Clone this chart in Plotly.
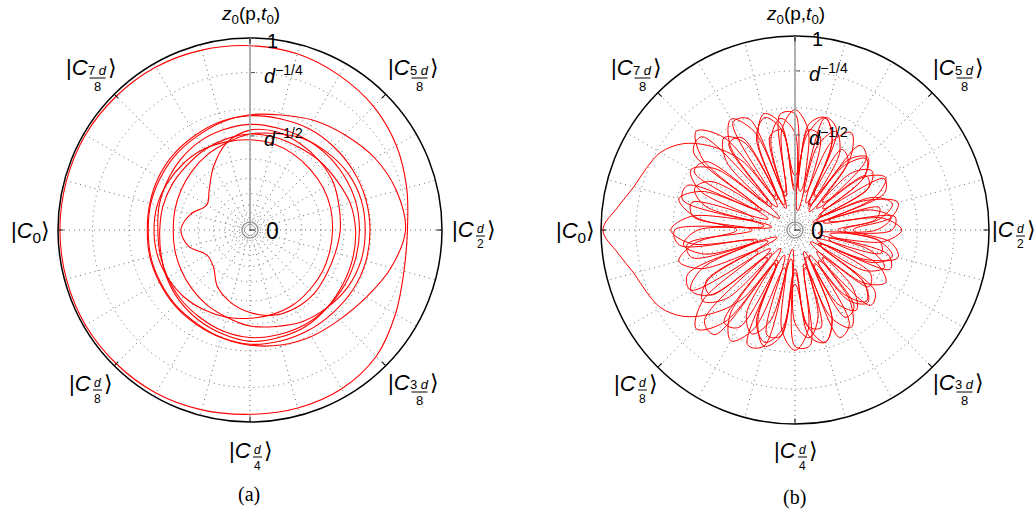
import plotly.graph_objects as go

W, H = 1036, 519
FONT = "Liberation Sans, Arial, sans-serif"
SERIF = "Liberation Serif, Times New Roman, serif"

# ---------------- data ----------------
# panel (a): radius (display scale) sampled every 15 degrees
theta_a = list(range(0, 360, 15))
a_big = [0.82, 0.845, 0.88, 0.91, 0.93, 0.95, 0.96, 0.97, 0.98, 0.985, 0.99, 0.99,
         0.99, 0.99, 0.99, 0.985, 0.98, 0.97, 0.96, 0.96, 0.955, 0.93, 0.875, 0.83]
a_c1 = [0.625, 0.624, 0.62, 0.615, 0.61, 0.6, 0.595, 0.585, 0.57, 0.56, 0.55, 0.54,
        0.535, 0.54, 0.545, 0.555, 0.565, 0.58, 0.595, 0.6, 0.605, 0.61, 0.62, 0.625]
a_c2 = [0.57, 0.57, 0.565, 0.56, 0.555, 0.55, 0.55, 0.54, 0.53, 0.515, 0.5, 0.49,
        0.48, 0.485, 0.495, 0.51, 0.525, 0.545, 0.56, 0.565, 0.57, 0.57, 0.57, 0.57]
a_c3 = [0.55, 0.54, 0.52, 0.51, 0.5, 0.5, 0.5, 0.49, 0.48, 0.47, 0.47, 0.47,
        0.47, 0.48, 0.5, 0.52, 0.54, 0.56, 0.58, 0.58, 0.58, 0.57, 0.56, 0.555]
a_c4 = [0.6, 0.6, 0.59, 0.57, 0.55, 0.52, 0.5, 0.47, 0.45, 0.43, 0.415, 0.405,
        0.4, 0.405, 0.415, 0.43, 0.45, 0.47, 0.5, 0.52, 0.55, 0.57, 0.59, 0.6]
a_c5 = [0.43, 0.435, 0.44, 0.445, 0.455, 0.465, 0.47, 0.475, 0.485, 0.49, 0.495, 0.5,
        0.5, 0.5, 0.495, 0.49, 0.48, 0.47, 0.46, 0.455, 0.45, 0.44, 0.435, 0.43]
a_c6 = [0.81, 0.79, 0.75, 0.7, 0.66, 0.62, 0.6, 0.58, 0.56, 0.55, 0.54, 0.535,
        0.53, 0.535, 0.54, 0.55, 0.56, 0.58, 0.6, 0.62, 0.64, 0.66, 0.7, 0.76]
a_wavy = [0.47, 0.48, 0.5, 0.51, 0.52, 0.53, 0.52, 0.47, 0.38, 0.3, 0.26, 0.32,
          0.36, 0.33, 0.26, 0.27, 0.34, 0.39, 0.43, 0.46, 0.47, 0.47, 0.46, 0.46]
a_curves = [a_big, a_c1, a_c2, a_c3, a_c4, a_c5, a_c6, a_wavy]

# panel (b): radius sampled every 7.5 degrees
theta_b = [i * 7.5 for i in range(48)]
b_f0 = [0.30, 0.50, 0.55, 0.40, 0.15, 0.45, 0.52, 0.42, 0.15, 0.50, 0.60, 0.55,
        0.20, 0.55, 0.62, 0.50, 0.18, 0.45, 0.61, 0.73, 0.80, 0.83, 0.86, 0.92,
        0.99, 0.92, 0.86, 0.83, 0.80, 0.73, 0.61, 0.45, 0.18, 0.50, 0.62, 0.55,
        0.20, 0.55, 0.60, 0.50, 0.15, 0.42, 0.52, 0.45, 0.15, 0.40, 0.55, 0.50]
b_f1 = [0.55, 0.46, 0.18, 0.45, 0.54, 0.45, 0.16, 0.47, 0.58, 0.49, 0.20, 0.52,
        0.62, 0.52, 0.20, 0.55, 0.66, 0.55, 0.17, 0.52, 0.62, 0.53, 0.22, 0.54,
        0.64, 0.54, 0.22, 0.52, 0.62, 0.55, 0.17, 0.55, 0.66, 0.55, 0.20, 0.52,
        0.62, 0.52, 0.20, 0.49, 0.58, 0.47, 0.16, 0.45, 0.54, 0.46, 0.18, 0.46]
b_f2 = [0.25, 0.44, 0.52, 0.44, 0.14, 0.45, 0.53, 0.46, 0.20, 0.50, 0.60, 0.50,
        0.28, 0.52, 0.60, 0.52, 0.20, 0.60, 0.72, 0.60, 0.22, 0.52, 0.62, 0.52,
        0.30, 0.52, 0.62, 0.52, 0.22, 0.60, 0.72, 0.60, 0.20, 0.52, 0.60, 0.52,
        0.28, 0.50, 0.60, 0.50, 0.20, 0.46, 0.53, 0.45, 0.14, 0.44, 0.52, 0.44]
b_f3 = [0.50, 0.52, 0.15, 0.50, 0.53, 0.18, 0.52, 0.55, 0.14, 0.56, 0.60, 0.20,
        0.60, 0.60, 0.18, 0.62, 0.64, 0.15, 0.68, 0.66, 0.20, 0.60, 0.60, 0.16,
        0.62, 0.60, 0.20, 0.60, 0.62, 0.16, 0.66, 0.68, 0.20, 0.64, 0.62, 0.15,
        0.60, 0.60, 0.18, 0.60, 0.56, 0.20, 0.55, 0.52, 0.14, 0.53, 0.50, 0.18]
b_f4 = [0.22, 0.42, 0.45, 0.12, 0.44, 0.46, 0.20, 0.45, 0.48, 0.15, 0.50, 0.52,
        0.22, 0.52, 0.50, 0.14, 0.55, 0.56, 0.20, 0.58, 0.60, 0.15, 0.55, 0.53,
        0.22, 0.56, 0.55, 0.15, 0.53, 0.55, 0.20, 0.60, 0.58, 0.14, 0.56, 0.55,
        0.22, 0.50, 0.52, 0.15, 0.52, 0.50, 0.20, 0.48, 0.45, 0.12, 0.46, 0.44]
b_f5 = [0.42, 0.50, 0.40, 0.10, 0.44, 0.50, 0.42, 0.12, 0.46, 0.55, 0.45, 0.10,
        0.50, 0.58, 0.48, 0.12, 0.52, 0.60, 0.50, 0.10, 0.50, 0.56, 0.48, 0.12,
        0.50, 0.58, 0.48, 0.10, 0.52, 0.60, 0.50, 0.12, 0.50, 0.58, 0.48, 0.10,
        0.48, 0.56, 0.46, 0.12, 0.44, 0.52, 0.42, 0.10, 0.42, 0.50, 0.40, 0.12]
b_curves = [b_f1, b_f2, b_f3, b_f4, b_f5, b_f0]

# axes
grid_r = [0.065, 0.09, 0.13, 0.19, 0.27, 0.37, 0.49, 0.63, 0.82, 1.0]
grid_theta = list(range(0, 360, 15))
tick_theta = list(range(0, 360, 45))
radial_tick_r = [0.49, 0.82]
radial_tick_text = ["<i>d</i><sup>\u22121/2</sup>", "<i>d</i><sup>\u22121/4</sup>"]
# ket labels: angle, numerator factor, denominator
kets = [(135, "7", "8"), (45, "5", "8"), (315, "3", "8"), (225, "", "8"),
        (270, "", "4"), (0, "", "2"), (180, None, "0")]

# ---------------- layout helpers ----------------
panels = [dict(cx=250, cy=230, R=192, name="polar", tick="polar3", lab="(a)", laby=494, right=223),
          dict(cx=795, cy=230, R=194, name="polar2", tick="polar4", lab="(b)", laby=497, right=218)]

# label centre offsets (px) around each disc, per angle
ket_off = {135: (-160, -162), 45: (162, -162), 315: (162, 152), 225: (-160, 153),
           270: (0, 220), 180: (-220, 2)}

annotations, shapes = [], []


def px(x):
    return x / W


def py(y):
    return 1 - y / H


def ann(x, y, text, size, xanchor="center", yanchor="middle", family=FONT):
    annotations.append(dict(x=px(x), y=py(y), xref="paper", yref="paper", text=text,
                            showarrow=False, xanchor=xanchor, yanchor=yanchor,
                            borderpad=0,
                            font=dict(family=family, size=size, color="black")))


def line(x0, y0, x1, y1, color="black", width=1):
    shapes.append(dict(type="line", xref="paper", yref="paper", x0=px(x0), y0=py(y0),
                       x1=px(x1), y1=py(y1), line=dict(color=color, width=width)))


fig = go.Figure()


def closed(v):
    return list(v) + [v[0]]


for r in a_curves:
    fig.add_trace(go.Scatterpolar(r=closed(r), theta=closed(theta_a), mode="lines",
                                  line=dict(color="red", width=1.1, shape="spline"),
                                  subplot="polar", showlegend=False, hoverinfo="skip"))
for r in b_curves:
    fig.add_trace(go.Scatterpolar(r=closed(r), theta=closed(theta_b), mode="lines",
                                  line=dict(color="red", width=1.0, shape="spline"),
                                  subplot="polar2", showlegend=False, hoverinfo="skip"))
for p in panels:
    fig.add_trace(go.Scatterpolar(r=[], theta=[], mode="lines", subplot=p["tick"],
                                  showlegend=False, hoverinfo="skip"))

layout = dict(width=W, height=H, margin=dict(l=0, r=0, t=0, b=0),
              paper_bgcolor="white", plot_bgcolor="white", showlegend=False)

for p in panels:
    cx, cy, R = p["cx"], p["cy"], p["R"]
    dom = dict(x=[(cx - R) / W, (cx + R) / W], y=[1 - (cy + R) / H, 1 - (cy - R) / H])
    layout[p["name"]] = dict(
        domain=dom, bgcolor="white",
        radialaxis=dict(range=[0, 1], angle=90, tickmode="array", tickvals=grid_r,
                        showticklabels=False, ticks="", showgrid=True,
                        gridcolor="#6a6a6a", griddash="1px,4px", gridwidth=1,
                        showline=True, linecolor="#a0a0a0", linewidth=1.6),
        angularaxis=dict(rotation=0, direction="counterclockwise", tickmode="array",
                         tickvals=grid_theta, showticklabels=False, ticks="",
                         showgrid=True, gridcolor="#6a6a6a", griddash="1px,4px",
                         gridwidth=1, showline=True, linecolor="black", linewidth=1.5))
    layout[p["tick"]] = dict(
        domain=dom, bgcolor="rgba(0,0,0,0)",
        radialaxis=dict(visible=False, range=[0, 1]),
        angularaxis=dict(rotation=0, direction="counterclockwise", tickmode="array",
                         tickvals=tick_theta, showticklabels=False, ticks="inside",
                         ticklen=5, tickwidth=1, tickcolor="black", showgrid=False,
                         showline=False))

    # centre ring and zero tick
    shapes.append(dict(type="circle", xref="paper", yref="paper",
                       x0=px(cx - 8), x1=px(cx + 8), y0=py(cy + 8), y1=py(cy - 8),
                       line=dict(color="#9a9a9a", width=1.5)))
    line(cx, cy, cx + 5, cy, color="#333333", width=1.2)
    for rv in radial_tick_r + [1.0]:
        line(cx + 1, cy - rv * R, cx + 5, cy - rv * R, color="#555555", width=1)

    # radial labels
    ann(cx + 15, cy + 1, "0", 23, xanchor="left")
    ann(cx + 16, cy - R + 3, "1", 20, xanchor="left")
    for rv, txt in zip(radial_tick_r, radial_tick_text):
        ann(cx + 13, cy - rv * R + 2, txt, 20, xanchor="left")

    # top label
    ann(cx, 15, "<i>z</i><sub>0</sub>(p,<i>t</i><sub>0</sub>)", 19)
    # panel caption
    ann(cx - 1, p["laby"], p["lab"], 20, family=SERIF)

    # ket labels
    offs = dict(ket_off)
    offs[0] = (p["right"], -1)
    for ang, num, den in kets:
        dx, dy = offs[ang]
        kx, ky = cx + dx, cy + dy
        if num is None:
            ann(kx, ky, "|<i>C</i><sub>" + den + "</sub>\u27e9", 22)
            continue
        large = num != ""
        hw = 8 if large else 4.5
        fs = 13 if large else 12
        fx = kx + 7.5
        ann(fx - hw - 1, ky, "|<i>C</i>", 22, xanchor="right")
        ann(fx + hw + 1, ky, "\u27e9", 22, xanchor="left")
        ntext = (num + " <i>d</i>") if large else "<i>d</i>"
        ann(fx, ky + (2 if large else 0), ntext, fs)
        yb = ky + (10 if large else 7)
        line(fx - hw, yb, fx + hw, yb, width=1)
        ann(fx, ky + (18.5 if large else 15.5), den, fs)

layout["annotations"] = annotations
layout["shapes"] = shapes
fig.update_layout(**layout)
fig.write_html("out.html", config={"displayModeBar": False, "staticPlot": True},
               post_script="document.body.style.margin='0';document.body.style.overflow='hidden';")
